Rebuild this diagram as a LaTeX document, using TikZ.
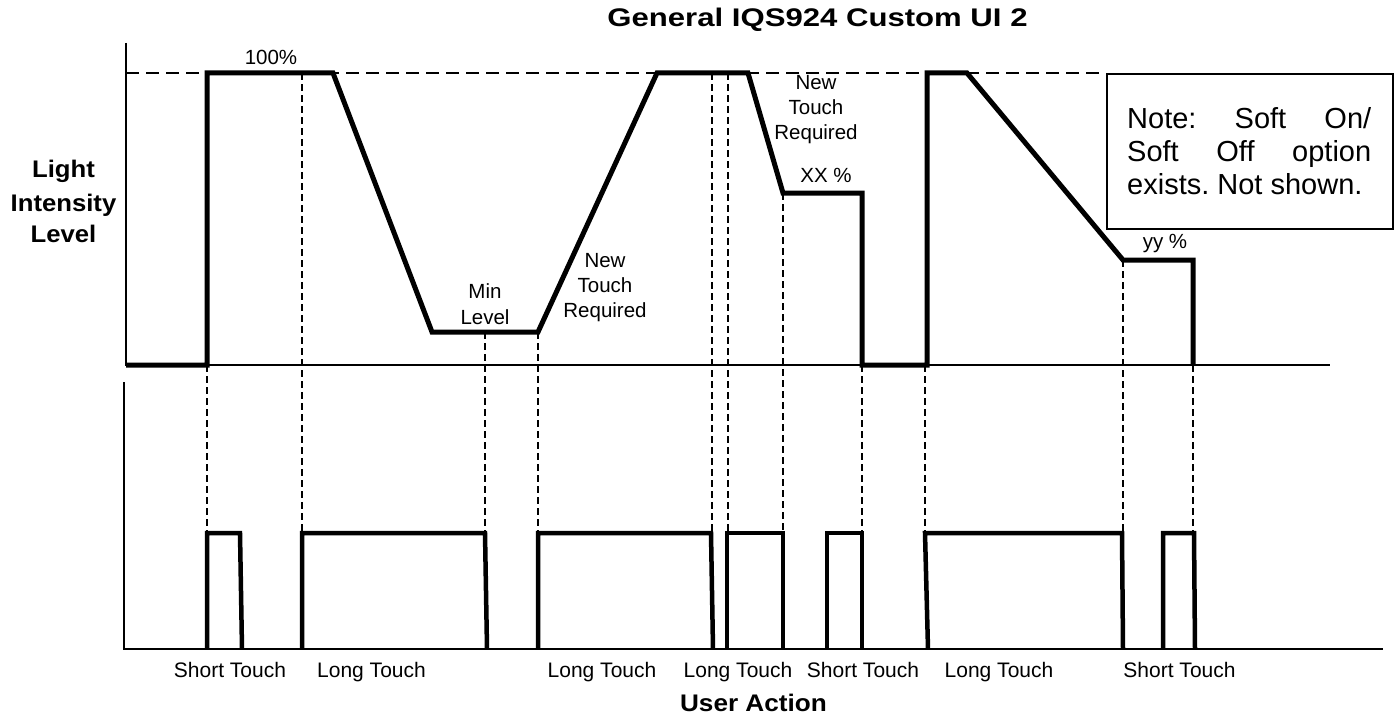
\documentclass[tikz,border=0pt]{standalone}
\usepackage{fontspec}
\setmainfont{Liberation Sans}
\usepackage{graphicx}
\newcommand{\hs}[2]{\scalebox{#1}[1]{#2}}
\frenchspacing
\begin{document}
\begin{tikzpicture}[x=1pt,y=-1pt,
  wave/.style={line width=5pt, line join=miter},
  pulse/.style={line width=4.5pt, line join=miter},
  axis/.style={line width=2pt},
  guide/.style={line width=1.5pt, dash pattern=on 7pt off 4pt},
  hguide/.style={line width=1.5pt, dash pattern=on 13pt off 7pt},
  lbl/.style={font=\fontsize{20.5}{24}\selectfont, inner sep=0pt, anchor=base},
  blbl/.style={font=\bfseries\fontsize{24}{28}\selectfont, inner sep=0pt, anchor=base},
  notetxt/.style={font=\fontsize{29}{33}\selectfont, inner sep=0pt, anchor=base west},
  notebox/.style={draw, line width=2pt}
]
\useasboundingbox (0,0) rectangle (1400,717);

% axes
\draw[axis] (126,43) -- (126,365) -- (1330,365);
\draw[axis] (124,382) -- (124,649) -- (1383,649);

% 100% guide line
\draw[hguide] (126,73) -- (1106,73);

% vertical guides
\draw[guide] (207,365) -- (207,533);
\draw[guide] (302,73) -- (302,533);
\draw[guide] (485,332) -- (485,533);
\draw[guide] (538,332) -- (538,533);
\draw[guide] (712,73) -- (712,533);
\draw[guide] (728,73) -- (728,533);
\draw[guide] (783,193) -- (783,533);
\draw[guide] (862,365) -- (862,533);
\draw[guide] (925,365) -- (925,533);
\draw[guide] (1123,260) -- (1123,533);
\draw[guide] (1193,365) -- (1193,533);

% light intensity waveform
\draw[wave] (126,365) -- (207,365) -- (207,73) -- (333,73) -- (432,332) -- (538,332)
  -- (657,73) -- (748,73) -- (783,193) -- (862,193) -- (862,365) -- (927,365)
  -- (927,73) -- (967,73) -- (1123,260) -- (1193,260) -- (1193,365);

% user action pulses
\draw[pulse] (207,649) -- (207,533) -- (240,533) -- (242,649);
\draw[pulse] (302,649) -- (302,533) -- (485,533) -- (487,649);
\draw[pulse] (538,649) -- (538,533) -- (711,533) -- (713,649);
\draw[pulse] (727,649) -- (727,533) -- (783,533) -- (783,649);
\draw[pulse] (827,649) -- (827,533) -- (862,533) -- (862,649);
\draw[pulse] (928,649) -- (925,533) -- (1122,533) -- (1123,649);
\draw[pulse] (1163,649) -- (1163,533) -- (1194,533) -- (1195,649);

% note box
\node[notebox, minimum width=286pt, minimum height=155pt, inner sep=0pt, anchor=north west] (note) at (1106,73) {};
\node[notetxt] (n1) at (1127,128) {\makebox[244pt][s]{Note: Soft On/}};
\node[notetxt] (n2) at (1127,161) {\makebox[244pt][s]{Soft Off option}};
\node[notetxt] (n3) at (1127,194) {exists. Not shown.};

% title and axis labels
\node[font=\bfseries\fontsize{25.5}{30}\selectfont, inner sep=0pt, anchor=base] (title) at (817.5,26.7) {\hs{1.22}{General IQS924 Custom UI 2}};
\node[blbl] (yl1) at (63.5,177) {\hs{1.07}{Light}};
\node[blbl] (yl2) at (63.5,211) {\hs{1.07}{Intensity}};
\node[blbl] (yl3) at (63.5,242) {\hs{1.07}{Level}};
\node[blbl] (xl) at (753.5,711) {\hs{1.09}{User Action}};

% waveform labels
\node[lbl] (full) at (271,65) {100\%};
\node[lbl] (min1) at (485,298) {Min};
\node[lbl] (min2) at (485,324) {Level};
\node[lbl] (nt1a) at (605,267) {New};
\node[lbl] (nt1b) at (605,292) {Touch};
\node[lbl] (nt1c) at (605,317) {Required};
\node[lbl] (nt2a) at (816,89) {New};
\node[lbl] (nt2b) at (816,114) {Touch};
\node[lbl] (nt2c) at (816,139) {Required};
\node[lbl] (xx) at (826,182) {XX \%};
\node[lbl] (yy) at (1165,248) {yy \%};

% action labels
\node[lbl, font=\fontsize{21}{24}\selectfont] (a1) at (230,677) {Short Touch};
\node[lbl, font=\fontsize{21}{24}\selectfont] (a2) at (371.5,677) {Long Touch};
\node[lbl, font=\fontsize{21}{24}\selectfont] (a3) at (602,677) {Long Touch};
\node[lbl, font=\fontsize{21}{24}\selectfont] (a4) at (738,677) {Long Touch};
\node[lbl, font=\fontsize{21}{24}\selectfont] (a5) at (863,677) {Short Touch};
\node[lbl, font=\fontsize{21}{24}\selectfont] (a6) at (999,677) {Long Touch};
\node[lbl, font=\fontsize{21}{24}\selectfont] (a7) at (1179.5,677) {Short Touch};
\end{tikzpicture}
\end{document}
